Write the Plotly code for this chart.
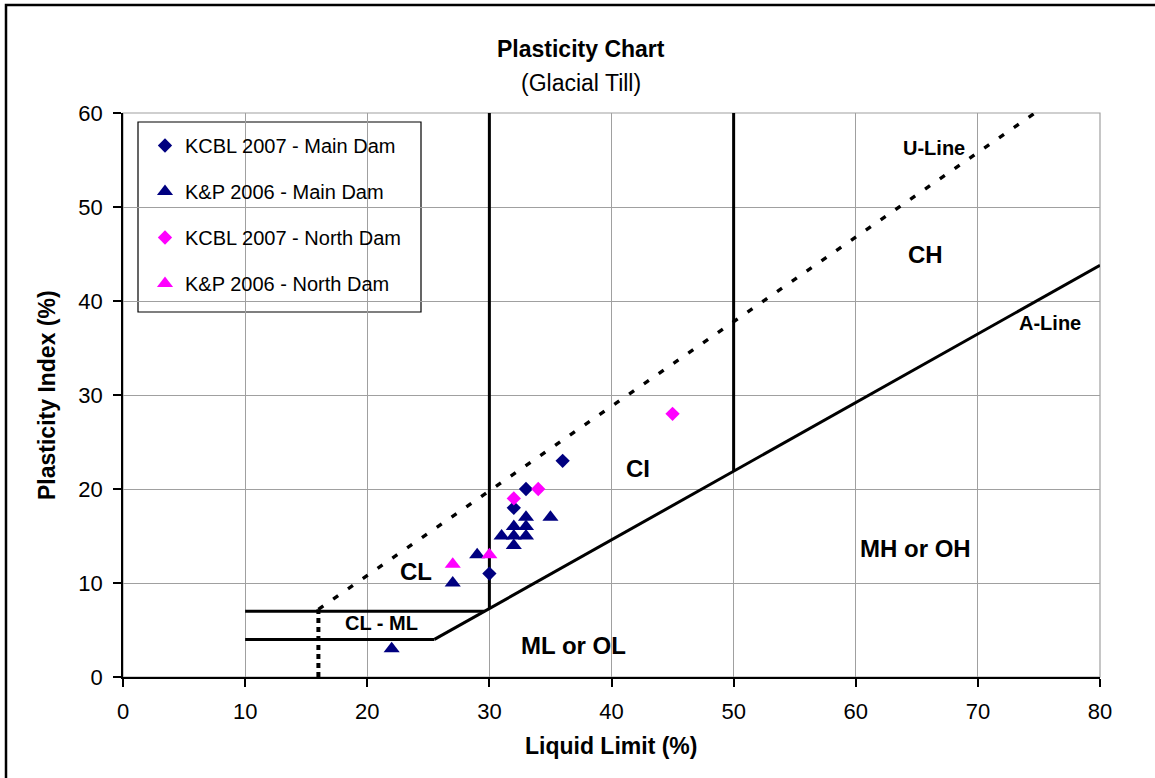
import plotly.graph_objects as go

# ---------------- data ----------------
kcbl_main_ll = [36, 33, 32, 30]
kcbl_main_pi = [23, 20, 18, 11]

kp_main_ll = [35, 33, 33, 33, 32, 32, 32, 31, 29, 27, 22]
kp_main_pi = [17, 17, 16, 15, 16, 15, 14, 15, 13, 10, 3]

kcbl_north_ll = [45, 34, 32]
kcbl_north_pi = [28, 20, 19]

kp_north_ll = [27, 30]
kp_north_pi = [12, 13]

# classification lines
a_line_ll = [25.5, 80]
a_line_pi = [4, 43.8]
u_line_ll = [16, 74.67]
u_line_pi = [7.2, 60]
cl_ml_top_ll = [10, 29.6]
cl_ml_top_pi = [7, 7]
cl_ml_bot_ll = [10, 25.5]
cl_ml_bot_pi = [4, 4]
ll16_ll = [16, 16]
ll16_pi = [0, 7.2]
ll30_ll = [30, 30]
ll30_pi = [7.3, 60]
ll50_ll = [50, 50]
ll50_pi = [21.9, 60]

x_ticks = [0, 10, 20, 30, 40, 50, 60, 70, 80]
y_ticks = [0, 10, 20, 30, 40, 50, 60]

FONT = "Liberation Sans, Arial, sans-serif"
NAVY = "#000080"
MAG = "#FF00FF"

fig = go.Figure()

def line(x, y, dash="solid", width=3):
    fig.add_trace(go.Scatter(x=x, y=y, mode="lines", showlegend=False, hoverinfo="skip",
                             line=dict(color="black", width=width, dash=dash)))

line(a_line_ll, a_line_pi)
line(u_line_ll, u_line_pi, dash="6px,12px", width=3.4)
line(cl_ml_top_ll, cl_ml_top_pi)
line(cl_ml_bot_ll, cl_ml_bot_pi)
line(ll16_ll, ll16_pi, dash="5px,4px", width=4)
line(ll30_ll, ll30_pi)
line(ll50_ll, ll50_pi)

def pts(x, y, name, sym, color, g, size):
    fig.add_trace(go.Scatter(x=x, y=y, mode="markers", name=name, legendgroup=g,
                             marker=dict(symbol=sym, size=size, color=color,
                                         line=dict(width=0))))

pts(kcbl_main_ll, kcbl_main_pi, "KCBL 2007 - Main Dam", "diamond", NAVY, "a", 11)
pts(kp_main_ll, kp_main_pi, "K&P 2006 - Main Dam", "triangle-up", NAVY, "b", 14)
pts(kcbl_north_ll, kcbl_north_pi, "KCBL 2007 - North Dam", "diamond", MAG, "c", 11)
pts(kp_north_ll, kp_north_pi, "K&P 2006 - North Dam", "triangle-up", MAG, "d", 14)

L, R, T, B = 123, 55, 113, 101
W, H = 1155, 778
pw, ph = W - L - R, H - T - B

def px(x):
    return (x - L) / pw

def py(y):
    return (H - B - y) / ph

annots = [
    dict(text="<b>Plasticity Chart</b>", x=px(581), y=py(49), size=23),
    dict(text="(Glacial Till)", x=px(581), y=py(83), size=23),
    dict(text="<b>Liquid Limit (%)</b>", x=px(611), y=py(746), size=23),
]
for a in annots:
    fig.add_annotation(text=a["text"], x=a["x"], y=a["y"], xref="paper", yref="paper",
                       showarrow=False, xanchor="center", yanchor="middle",
                       font=dict(family=FONT, size=a["size"], color="black"))
fig.add_annotation(text="<b>Plasticity Index (%)</b>", x=px(47), y=py(395), xref="paper",
                   yref="paper", showarrow=False, textangle=-90, xanchor="center",
                   yanchor="middle", font=dict(family=FONT, size=23, color="black"))

labels = [
    ("U-Line", 66.4, 56.3, 20),
    ("CH", 65.7, 45.0, 24),
    ("A-Line", 75.9, 37.7, 20),
    ("CI", 42.2, 22.2, 24),
    ("CL", 24.0, 11.2, 24),
    ("CL - ML", 21.2, 5.7, 20),
    ("ML or OL", 36.9, 3.3, 24),
    ("MH or OH", 64.9, 13.7, 24),
]
for t, x, y, s in labels:
    fig.add_annotation(text=f"<b>{t}</b>", x=x, y=y, xref="x", yref="y", showarrow=False,
                       xanchor="center", yanchor="middle",
                       font=dict(family=FONT, size=s, color="black"))

# outer chart border
fig.add_shape(type="rect", xref="paper", yref="paper", x0=px(6), x1=px(1170),
              y0=py(790), y1=py(5), line=dict(color="black", width=2.5), layer="above")
# plot frame (gray top/right)
fig.add_shape(type="rect", xref="paper", yref="paper", x0=0, x1=1, y0=0, y1=1,
              line=dict(color="#a0a0a0", width=1.2), layer="below")
# legend box
fig.add_shape(type="rect", xref="paper", yref="paper", x0=px(138), x1=px(421),
              y0=py(312), y1=py(122), line=dict(color="black", width=1.2),
              fillcolor="white", layer="below")

fig.update_layout(
    width=W, height=H,
    margin=dict(l=L, r=R, t=T, b=B),
    paper_bgcolor="white", plot_bgcolor="white",
    font=dict(family=FONT, size=22, color="black"),
    showlegend=True,
    legend=dict(x=px(145), y=py(126), xanchor="left", yanchor="top",
                bgcolor="rgba(0,0,0,0)", borderwidth=0,
                font=dict(family=FONT, size=20, color="black"),
                tracegroupgap=17),
    xaxis=dict(range=[0, 80], tickvals=x_ticks, ticktext=[str(v) for v in x_ticks],
               showgrid=True, gridcolor="#a0a0a0", gridwidth=1.2, zeroline=False,
               showline=True, linecolor="black", linewidth=1.5,
               ticks="outside", ticklen=8, tickcolor="black", tickwidth=1.5,
               ticklabelstandoff=6,
               tickfont=dict(family=FONT, size=22, color="black")),
    yaxis=dict(range=[0, 60], tickvals=y_ticks, ticktext=[str(v) for v in y_ticks],
               showgrid=True, gridcolor="#a0a0a0", gridwidth=1.2, zeroline=False,
               showline=True, linecolor="black", linewidth=1.5,
               ticks="outside", ticklen=8, tickcolor="black", tickwidth=1.5,
               ticklabelstandoff=6,
               tickfont=dict(family=FONT, size=22, color="black")),
)

fig.write_html("out.html", config={"displayModeBar": False},
               post_script="document.body.style.margin='0px';")
